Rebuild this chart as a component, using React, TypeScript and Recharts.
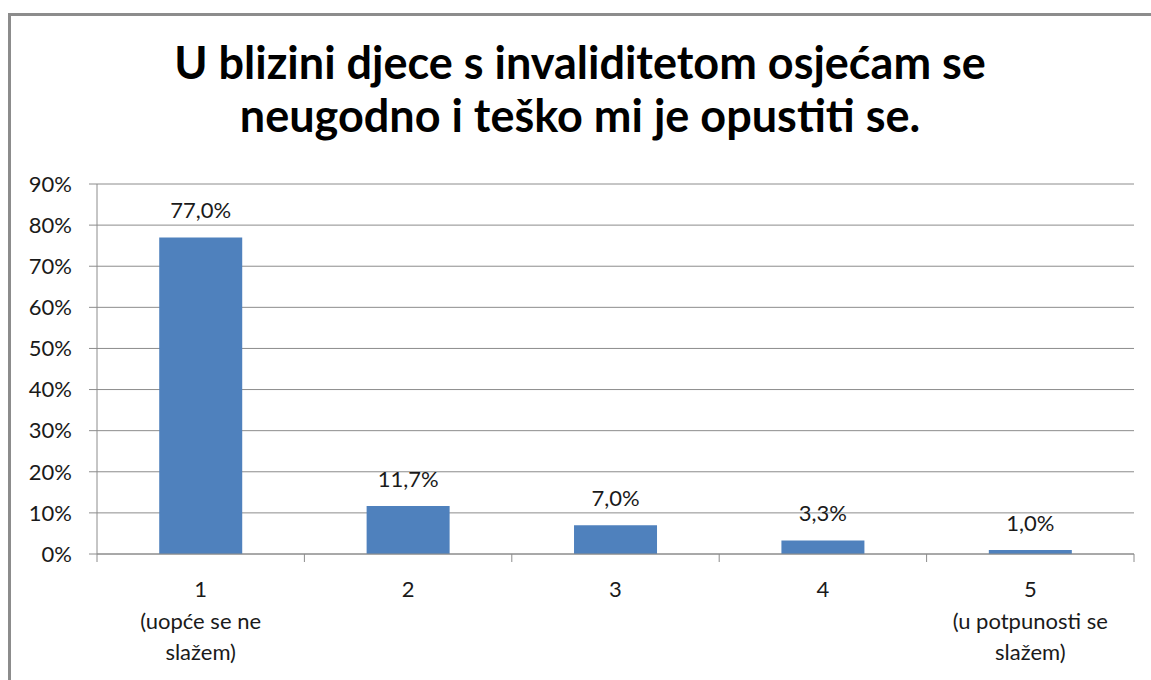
import { BarChart, Bar, XAxis, YAxis, CartesianGrid, LabelList } from "recharts";

const categories = ["1", "2", "3", "4", "5"];
const subLabels = [["(uopće se ne", "slažem)"], [], [], [], ["(u potpunosti se", "slažem)"]];
const values = [77.0, 11.7, 7.0, 3.3, 1.0];
const yTicks = [0, 10, 20, 30, 40, 50, 60, 70, 80, 90];
const titleLines = ["U blizini djece s invaliditetom osjećam se", "neugodno i teško mi je opustiti se."];

const data = categories.map((c, i) => ({ name: c, value: values[i] }));

const FONT = "Lato, 'Open Sans', sans-serif";
const AXIS = "#8c8c8c";
const TEXT = "#1a1a1a";
const BAND = 207.4;

function XTick(props: any) {
  const { x, y, index, payload } = props;
  const sub = subLabels[index] || [];
  return (
    <g>
      <line x1={x - BAND / 2} y1={y - 8} x2={x - BAND / 2} y2={y} stroke={AXIS} />
      {index === categories.length - 1 && (
        <line x1={x + BAND / 2} y1={y - 8} x2={x + BAND / 2} y2={y} stroke={AXIS} />
      )}
      <text x={x} y={y + 35} textAnchor="middle" fill={TEXT} fontSize={22} fontFamily={FONT}>
        {payload.value}
      </text>
      {sub.map((s: string, i: number) => (
        <text key={i} x={x} y={y + 67 + i * 31} textAnchor="middle" fill={TEXT} fontSize={22} fontFamily={FONT}>
          {s}
        </text>
      ))}
    </g>
  );
}

export default function App() {
  return (
    <div style={{ position: "absolute", left: 0, top: 0, width: 1151, height: 680, background: "#fff", overflow: "hidden" }}>
      <div style={{ position: "absolute", left: 8, top: 13, width: 1200, height: 720, border: "3px solid #8c8c8c", boxSizing: "border-box" }} />
      <div style={{ position: "absolute", left: 0, top: 36, width: 1160, textAlign: "center", fontFamily: FONT, fontWeight: 700, fontSize: 45, lineHeight: "53px", color: "#000" }}>
        {titleLines.map((t) => (
          <div key={t}>{t}</div>
        ))}
      </div>
      <BarChart
        width={1151}
        height={680}
        data={data}
        margin={{ top: 184, right: 17, bottom: 0, left: 0 }}
        barCategoryGap="30%"
        style={{ position: "absolute", left: 0, top: 0 }}
      >
        <CartesianGrid vertical={false} stroke={AXIS} strokeWidth={1} />
        <YAxis
          width={97}
          domain={[0, 90]}
          ticks={yTicks}
          interval={0}
          tickFormatter={(v) => `${v}%`}
          axisLine={{ stroke: AXIS }}
          tickLine={{ stroke: AXIS }}
          tickSize={8}
          tickMargin={17}
          tick={{ fill: TEXT, fontSize: 22, fontFamily: FONT }}
        />
        <XAxis
          dataKey="name"
          axisLine={{ stroke: AXIS }}
          tickLine={false}
          interval={0}
          tick={<XTick />}
          height={126}
        />
        <Bar dataKey="value" fill="#4f81bd" isAnimationActive={false}>
          <LabelList
            dataKey="value"
            position="top"
            offset={19}
            formatter={(v: any) => `${Number(v).toFixed(1).replace(".", ",")}%`}
            style={{ fill: TEXT, fontSize: 22, fontFamily: FONT }}
          />
        </Bar>
      </BarChart>
    </div>
  );
}
